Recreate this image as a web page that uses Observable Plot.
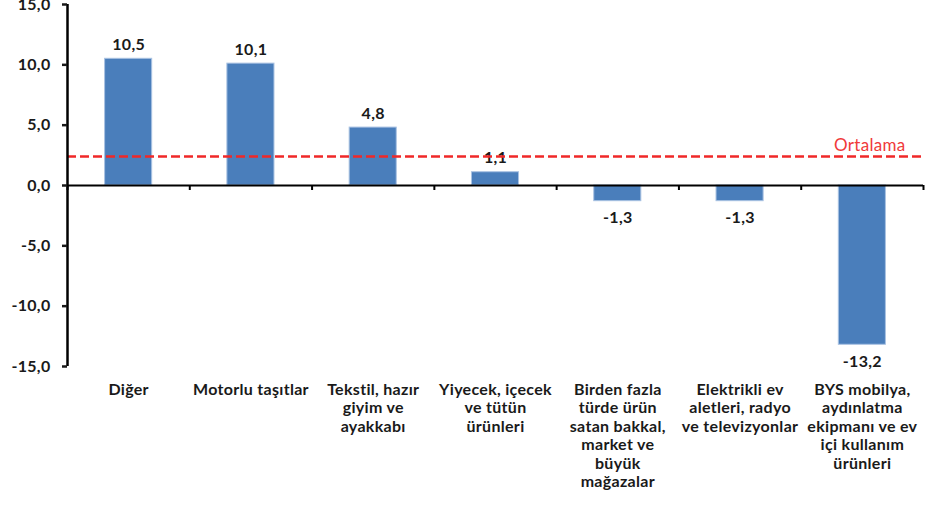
<!DOCTYPE html>
<html>
<head>
<meta charset="utf-8">
<script src="https://cdn.jsdelivr.net/npm/d3@7"></script>
<script src="https://cdn.jsdelivr.net/npm/@observablehq/plot@0.6"></script>
<style>
  html, body { margin: 0; padding: 0; background: #fff; }
  #chart svg { display: block; }
  #chart svg text { letter-spacing: 0.3px; }
</style>
</head>
<body>
<div id="chart"></div>
<script>
const categories = [
  "Diğer",
  "Motorlu taşıtlar",
  "Tekstil, hazır\ngiyim ve\nayakkabı",
  "Yiyecek, içecek\nve tütün\nürünleri",
  "Birden fazla\ntürde ürün\nsatan bakkal,\nmarket ve\nbüyük\nmağazalar",
  "Elektrikli ev\naletleri, radyo\nve televizyonlar",
  "BYS mobilya,\naydınlatma\nekipmanı ve ev\niçi kullanım\nürünleri"
];
const values = [10.5, 10.1, 4.8, 1.1, -1.3, -1.3, -13.2];
const average = 2.4;
const averageLabel = "Ortalama";
const yTicks = [-15, -10, -5, 0, 5, 10, 15];

const data = categories.map((c, i) => ({ i, c, v: values[i] }));
const pos = data.filter(d => d.v >= 0);
const neg = data.filter(d => d.v < 0);
const boundaries = d3.range(0, categories.length + 1);
const fmt = v => v.toFixed(1).replace(".", ",");
const font = "Lato, 'Open Sans', sans-serif";

const chart = Plot.plot({
  width: 930,
  height: 517,
  marginLeft: 67,
  marginRight: 7,
  marginTop: 4,
  marginBottom: 151,
  style: { fontFamily: font, fontSize: "16px", fontWeight: "bold", color: "#1a1a1a", background: "#fff" },
  x: { domain: [0, categories.length], axis: null },
  y: { domain: [-15, 15], axis: null },
  marks: [
    Plot.rectY(data, {
      x1: "i", x2: d => d.i + 1, y1: 0, y2: "v",
      insetLeft: 37.6, insetRight: 37.6,
      fill: "#4a7ebb", stroke: "#a9c2e2", strokeWidth: 1
    }),
    Plot.text(pos, {
      x: d => d.i + 0.5, y: "v", text: d => fmt(d.v),
      dy: -14, fontSize: 16, fontWeight: "bold", fill: "#1a1a1a"
    }),
    Plot.text(neg, {
      x: d => d.i + 0.5, y: "v", text: d => fmt(d.v),
      dy: 17, fontSize: 16, fontWeight: "bold", fill: "#1a1a1a"
    }),
    Plot.ruleY([average], {
      x1: 0, x2: categories.length,
      stroke: "#f02828", strokeWidth: 2.5, strokeDasharray: "9,4"
    }),
    Plot.text([average], {
      x: categories.length, y: d => d, text: [averageLabel],
      textAnchor: "end", dx: -18, dy: -11,
      fontSize: 17, fontWeight: "normal", fill: "#f03a3a"
    }),
    Plot.ruleY([0], { x1: 0, x2: categories.length, stroke: "#000", strokeWidth: 2 }),
    Plot.ruleX(boundaries, { x: d => d, y1: 0, y2: 0, insetBottom: -5, stroke: "#000", strokeWidth: 2 }),
    Plot.ruleX([0], { y1: -15, y2: 15, stroke: "#000", strokeWidth: 2.5 }),
    Plot.axisY({
      ticks: yTicks, tickFormat: fmt, tickSize: 5, tickPadding: 12,
      strokeWidth: 2.5, fontSize: 16, fontWeight: "bold", label: null
    }),
    Plot.text(data, {
      x: d => d.i + 0.5, y: -15, text: "c",
      textAnchor: "middle", lineAnchor: "top",
      dy: 15, lineHeight: 1.16,
      fontSize: 16, fontWeight: "bold", fill: "#1a1a1a"
    })
  ]
});
document.getElementById("chart").appendChild(chart);
</script>
</body>
</html>
